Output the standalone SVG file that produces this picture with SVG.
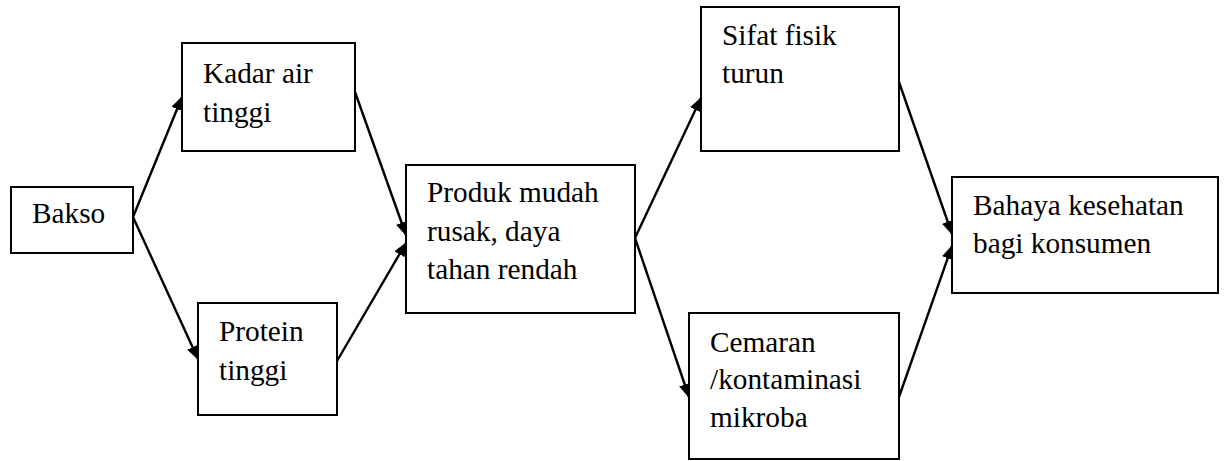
<svg xmlns="http://www.w3.org/2000/svg" width="1224" height="461" viewBox="0 0 1224 461">
<style>
.box{fill:#fff;stroke:#000;stroke-width:2}
.t{font-family:"Liberation Serif","Times New Roman",serif;font-size:29.3px;fill:#000}
.c{stroke:#000;stroke-width:2.4;fill:none;marker-end:url(#ah)}
</style>
<defs>
<marker id="ah" markerWidth="14" markerHeight="12" viewBox="0 0 14 12" refX="13" refY="6" orient="auto" markerUnits="userSpaceOnUse">
<path d="M0,0 L14,6 L0,12 Z" fill="#000"/>
</marker>
</defs>
<rect width="1224" height="461" fill="#fff"/>
<g id="connectors">
<line class="c" x1="133" y1="217" x2="182" y2="97"/>
<line class="c" x1="133" y1="217" x2="198" y2="359"/>
<line class="c" x1="355" y1="92" x2="406" y2="235"/>
<line class="c" x1="337" y1="361" x2="406" y2="243"/>
<line class="c" x1="635" y1="238" x2="701" y2="98"/>
<line class="c" x1="635" y1="238" x2="689" y2="397"/>
<line class="c" x1="899" y1="82" x2="952" y2="234"/>
<line class="c" x1="899" y1="397" x2="952" y2="246"/>
</g>
<g id="bakso">
<rect class="box" x="11" y="187" width="122" height="66"/>
<text class="t" x="32" y="223">Bakso</text>
</g>
<g id="kadar">
<rect class="box" x="182" y="43" width="173" height="108"/>
<text class="t" x="203" y="83">Kadar air</text>
<text class="t" x="203" y="122">tinggi</text>
</g>
<g id="protein">
<rect class="box" x="198" y="303" width="139" height="112"/>
<text class="t" x="219" y="341">Protein</text>
<text class="t" x="219" y="380">tinggi</text>
</g>
<g id="produk">
<rect class="box" x="406" y="165" width="229" height="148"/>
<text class="t" x="427" y="202">Produk mudah</text>
<text class="t" x="427" y="241">rusak, daya</text>
<text class="t" x="427" y="279">tahan rendah</text>
</g>
<g id="sifat">
<rect class="box" x="701" y="7" width="198" height="144"/>
<text class="t" x="722" y="45">Sifat fisik</text>
<text class="t" x="722" y="83">turun</text>
</g>
<g id="cemaran">
<rect class="box" x="689" y="313" width="210" height="146"/>
<text class="t" x="710" y="352">Cemaran</text>
<text class="t" x="710" y="389">/kontaminasi</text>
<text class="t" x="710" y="427">mikroba</text>
</g>
<g id="bahaya">
<rect class="box" x="952" y="177" width="266" height="116"/>
<text class="t" x="973" y="215">Bahaya kesehatan</text>
<text class="t" x="973" y="253">bagi konsumen</text>
</g>
</svg>
